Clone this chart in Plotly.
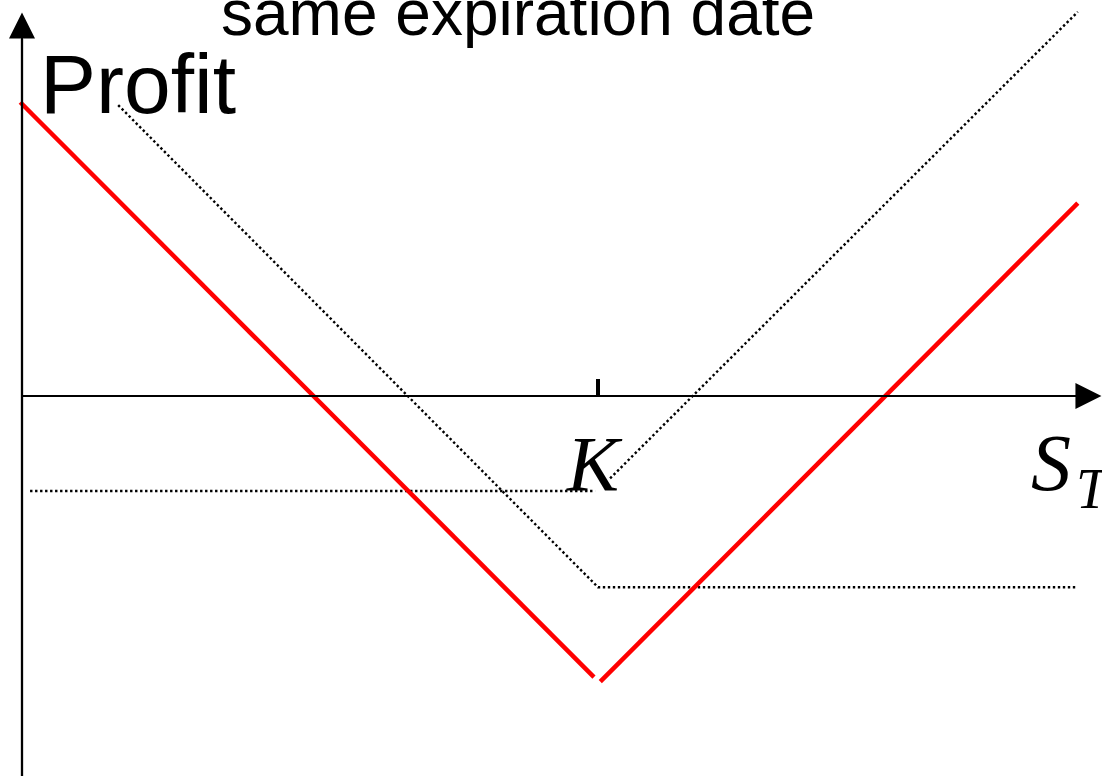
import plotly.graph_objects as go

W, H = 1102, 776
PX = 5.76  # pixels per unit (layout scale)

# Strike price
K = 100
k_label = "K"

# Long call profit (S_T, profit), gap near the K label
call_S = [1.4, 99.5, None, 102.1, 183.3]
call_P = [-16.5, -16.5, None, -14.3, 66.7]

# Long put profit
put_S = [16.7, 100, 183.0]
put_P = [50.5, -33.2, -33.2]

# Straddle profit (two legs)
straddle_S = [-0.3, 99.3, None, 100.4, 183.3]
straddle_P = [51.0, -48.8, None, -49.6, 33.5]

title_text = "same expiration date"
y_label = "Profit"

x_range = [-22 / PX, 1080 / PX]
y_range = [-380 / PX, 396 / PX]


def px_x(p):
    return p / W


def px_y(p):
    return 1 - p / H


fig = go.Figure()
dot = "2.4px,2.6px"
fig.add_trace(go.Scatter(x=call_S, y=call_P, mode="lines",
                         line=dict(color="black", width=2.4, dash=dot),
                         hoverinfo="skip"))
fig.add_trace(go.Scatter(x=put_S, y=put_P, mode="lines",
                         line=dict(color="black", width=2.4, dash=dot),
                         hoverinfo="skip"))
fig.add_trace(go.Scatter(x=straddle_S, y=straddle_P, mode="lines",
                         line=dict(color="#ff0000", width=4.5),
                         hoverinfo="skip"))

# axes lines
fig.add_shape(type="line", x0=0, x1=0, y0=y_range[0] - 5, y1=62,
              line=dict(color="black", width=2.3))
fig.add_shape(type="line", x0=0, x1=184, y0=0, y1=0,
              line=dict(color="black", width=2.2))
# tick at K
fig.add_shape(type="line", x0=K, x1=K, y0=0, y1=2.95,
              line=dict(color="black", width=4))

# arrow heads
fig.add_annotation(x=0, y=66.6, ax=0, ay=56, xref="x", yref="y",
                   axref="x", ayref="y", showarrow=True, arrowhead=2,
                   arrowwidth=2, arrowsize=2.6, arrowcolor="black", text="")
fig.add_annotation(x=187.4, y=0, ax=177, ay=0, xref="x", yref="y",
                   axref="x", ayref="y", showarrow=True, arrowhead=2,
                   arrowwidth=2, arrowsize=2.6, arrowcolor="black", text="")

# texts
fig.add_annotation(text=title_text, x=px_x(517.5), y=px_y(13), xref="paper",
                   yref="paper", xanchor="center", yanchor="middle",
                   showarrow=False,
                   font=dict(family="Liberation Sans", size=64, color="black"))
fig.add_annotation(text=y_label, x=px_x(38), y=px_y(84), xref="paper",
                   yref="paper", xanchor="left", yanchor="middle",
                   showarrow=False,
                   font=dict(family="Liberation Sans", size=84, color="black"))
fig.add_annotation(text="<i>" + k_label + "</i>", x=px_x(594), y=px_y(463),
                   xref="paper", yref="paper", xanchor="center",
                   yanchor="middle", showarrow=False,
                   font=dict(family="Liberation Serif", size=78, color="black"))
fig.add_annotation(text="<i>S</i>", x=px_x(1029), y=px_y(463),
                   xref="paper", yref="paper", xanchor="left",
                   yanchor="middle", showarrow=False,
                   font=dict(family="Liberation Serif", size=80, color="black"))
fig.add_annotation(text="<i>T</i>", x=px_x(1074), y=px_y(489),
                   xref="paper", yref="paper", xanchor="left",
                   yanchor="middle", showarrow=False,
                   font=dict(family="Liberation Serif", size=56, color="black"))

fig.update_layout(
    width=W, height=H,
    margin=dict(l=0, r=0, t=0, b=0, pad=0),
    paper_bgcolor="white", plot_bgcolor="white",
    showlegend=False,
    xaxis=dict(range=x_range, visible=False, fixedrange=True),
    yaxis=dict(range=y_range, visible=False, fixedrange=True),
)

fig.write_html(
    "out.html",
    config={"displayModeBar": False},
    post_script="document.body.style.margin='0px';"
                "document.body.style.overflow='hidden';",
)
